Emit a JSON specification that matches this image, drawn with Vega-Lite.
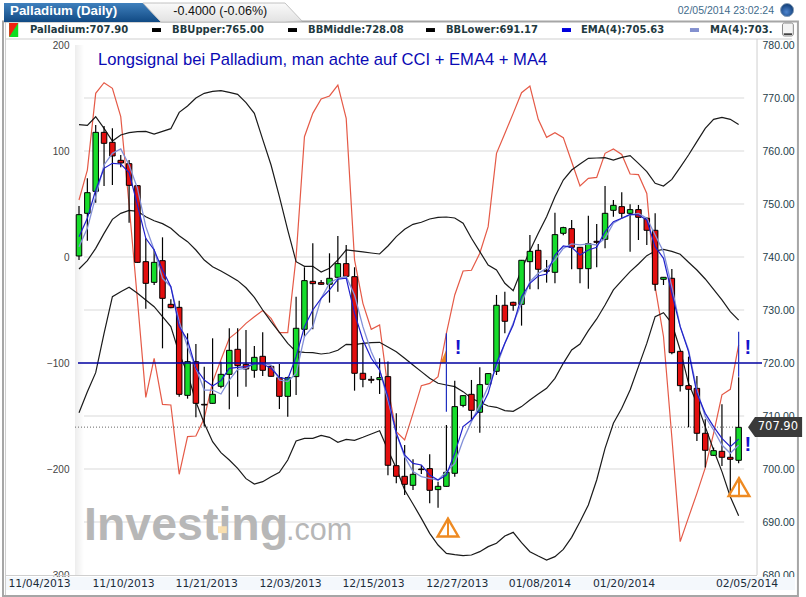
{
"$schema":"https://vega.github.io/schema/vega-lite/v6.json",
"width":682,"height":530,"autosize":"none","padding":{"left":75,"top":45,"right":49,"bottom":22},"background":"white",
"config":{"view":{"stroke":null},"scale":{"continuousPadding":0}},
"datasets":{
"candles":[
{"i":0,"open":740.19,"high":749.62,"low":739.43,"close":747.99,"bbUpper":764.97,"bbMiddle":737.73,"bbLower":710.63,"ema":743.84,"ma":741.95,"cci":53.8},
{"i":1,"open":748.24,"high":754.84,"low":743.08,"close":752.14,"bbUpper":764.84,"bbMiddle":739.3,"bbLower":714.59,"ema":747.3,"ma":745.41,"cci":82},
{"i":2,"open":752.39,"high":764.91,"low":750.25,"close":763.52,"bbUpper":766.47,"bbMiddle":741.63,"bbLower":718.18,"ema":752.64,"ma":751.38,"cci":154.4},
{"i":3,"open":763.52,"high":764.72,"low":753.4,"close":761.45,"bbUpper":764.27,"bbMiddle":744.46,"bbLower":725.6,"ema":756.73,"ma":757.36,"cci":164.4},
{"i":4,"open":761.64,"high":764.28,"low":753.59,"close":759.06,"bbUpper":761.88,"bbMiddle":747.1,"bbLower":732.52,"ema":757.67,"ma":759.56,"cci":159.1},
{"i":5,"open":758.24,"high":759.25,"low":756.92,"close":757.74,"bbUpper":763.02,"bbMiddle":748.24,"bbLower":733.46,"ema":757.55,"ma":760.38,"cci":132.4},
{"i":6,"open":757.61,"high":758.3,"low":746.48,"close":753.52,"bbUpper":763.46,"bbMiddle":748.8,"bbLower":734.28,"ema":755.91,"ma":757.36,"cci":49},
{"i":7,"open":753.46,"high":753.59,"low":738.93,"close":738.99,"bbUpper":763.65,"bbMiddle":748.61,"bbLower":733.15,"ema":749.81,"ma":752.96,"cci":-40.6},
{"i":8,"open":739.12,"high":743.52,"low":730.25,"close":735.03,"bbUpper":763.71,"bbMiddle":747.61,"bbLower":731.89,"ema":743.52,"ma":745.72,"cci":-132.4},
{"i":9,"open":735.22,"high":741.45,"low":734.72,"close":738.99,"bbUpper":763.2,"bbMiddle":746.85,"bbLower":730.63,"ema":741.32,"ma":741.32,"cci":-95.6},
{"i":10,"open":739.31,"high":743.71,"low":722.77,"close":732.2,"bbUpper":763.71,"bbMiddle":746.29,"bbLower":728.74,"ema":737.55,"ma":735.98,"cci":-139},
{"i":11,"open":731.07,"high":732.01,"low":730.31,"close":730.44,"bbUpper":764.21,"bbMiddle":745.41,"bbLower":726.86,"ema":734.4,"ma":734.4,"cci":-139.6},
{"i":12,"open":730.5,"high":731.76,"low":713.65,"close":714.09,"bbUpper":767.29,"bbMiddle":744.02,"bbLower":721.8,"ema":726.86,"ma":727.8,"cci":-205},
{"i":13,"open":713.9,"high":725.6,"low":713.27,"close":720.25,"bbUpper":768.49,"bbMiddle":742.89,"bbLower":718.05,"ema":724.34,"ma":723.08,"cci":-169.5},
{"i":14,"open":720.25,"high":723.59,"low":709.75,"close":712.39,"bbUpper":770,"bbMiddle":741.32,"bbLower":712.7,"ema":719,"ma":719,"cci":-168.9},
{"i":15,"open":712.2,"high":719.31,"low":708.03,"close":712.08,"bbUpper":770.88,"bbMiddle":739.43,"bbLower":708.62,"ema":716.79,"ma":714.9,"cci":-152.2},
{"i":16,"open":712.39,"high":724.66,"low":712.33,"close":714.09,"bbUpper":771.25,"bbMiddle":738.17,"bbLower":705.16,"ema":715.66,"ma":714.9,"cci":-118},
{"i":17,"open":715.6,"high":720.25,"low":715.22,"close":717.86,"bbUpper":771.38,"bbMiddle":737.36,"bbLower":703.08,"ema":716.67,"ma":714.15,"cci":-97},
{"i":18,"open":717.86,"high":726.54,"low":711.26,"close":722.39,"bbUpper":771.07,"bbMiddle":736.48,"bbLower":701.7,"ema":719,"ma":716.79,"cci":-76.7},
{"i":19,"open":722.58,"high":726.54,"low":713.65,"close":719.5,"bbUpper":770.69,"bbMiddle":735.54,"bbLower":700.13,"ema":719.18,"ma":718.81,"cci":-70.4},
{"i":20,"open":719.75,"high":726.23,"low":715.53,"close":718.87,"bbUpper":769.12,"bbMiddle":734.2,"bbLower":698.18,"ema":719.31,"ma":719,"cci":-62.6},
{"i":21,"open":718.62,"high":723.21,"low":717.24,"close":721.07,"bbUpper":767.1,"bbMiddle":732.39,"bbLower":697.17,"ema":719.81,"ma":719.94,"cci":-56.3},
{"i":22,"open":721.26,"high":725.79,"low":717.55,"close":718.62,"bbUpper":762.2,"bbMiddle":730,"bbLower":697.61,"ema":719.81,"ma":719.94,"cci":-50.6},
{"i":23,"open":719.37,"high":719.62,"low":717.42,"close":717.49,"bbUpper":757.36,"bbMiddle":727.8,"bbLower":698.55,"ema":719,"ma":719.62,"cci":-57.9},
{"i":24,"open":717.23,"high":719.81,"low":711.32,"close":713.71,"bbUpper":751.38,"bbMiddle":725.8,"bbLower":699.37,"ema":717.3,"ma":716.79,"cci":-71.4},
{"i":25,"open":713.71,"high":717.42,"low":709.88,"close":717.23,"bbUpper":745.09,"bbMiddle":723.71,"bbLower":701.7,"ema":716.92,"ma":716.48,"cci":-71.4},
{"i":26,"open":717.43,"high":732.52,"low":713.97,"close":726.55,"bbUpper":739.12,"bbMiddle":722.14,"bbLower":705.28,"ema":721.2,"ma":718.05,"cci":0},
{"i":27,"open":726.36,"high":738.06,"low":724.85,"close":735.54,"bbUpper":738.24,"bbMiddle":722.02,"bbLower":705.79,"ema":726.86,"ma":724.97,"cci":113.5},
{"i":28,"open":735.41,"high":742.58,"low":726.36,"close":734.97,"bbUpper":738.24,"bbMiddle":721.95,"bbLower":705.79,"ema":730,"ma":726.86,"cci":135.5},
{"i":29,"open":735.16,"high":735.66,"low":734.78,"close":734.85,"bbUpper":737.18,"bbMiddle":721.7,"bbLower":706.35,"ema":732.2,"ma":732.2,"cci":149},
{"i":30,"open":734.85,"high":740.7,"low":731.39,"close":735.98,"bbUpper":737.87,"bbMiddle":721.89,"bbLower":705.98,"ema":733.8,"ma":735.04,"cci":151.9},
{"i":31,"open":736.17,"high":743.97,"low":733.46,"close":738.75,"bbUpper":739.44,"bbMiddle":722.4,"bbLower":705.03,"ema":735.8,"ma":735.98,"cci":162.2},
{"i":32,"open":738.75,"high":742.27,"low":736.29,"close":736.36,"bbUpper":741.33,"bbMiddle":723.53,"bbLower":705.6,"ema":736,"ma":736.3,"cci":130.8},
{"i":33,"open":736.29,"high":738.06,"low":714.78,"close":718.06,"bbUpper":741.14,"bbMiddle":723.46,"bbLower":705.41,"ema":729.4,"ma":732.83,"cci":-2.8},
{"i":34,"open":718.06,"high":723.84,"low":715.41,"close":716.92,"bbUpper":740.95,"bbMiddle":723.72,"bbLower":705.98,"ema":724.34,"ma":726.86,"cci":-43.7},
{"i":35,"open":716.92,"high":717.55,"low":716.17,"close":716.74,"bbUpper":740.76,"bbMiddle":723.84,"bbLower":706.6,"ema":720.89,"ma":722.14,"cci":-68.2},
{"i":36,"open":716.86,"high":720.89,"low":714.16,"close":717.24,"bbUpper":740.57,"bbMiddle":723.9,"bbLower":707.23,"ema":718.68,"ma":718.68,"cci":-64.1},
{"i":37,"open":717.43,"high":720.26,"low":698.81,"close":700.7,"bbUpper":742.08,"bbMiddle":723.03,"bbLower":703.59,"ema":713.65,"ma":713.02,"cci":-124},
{"i":38,"open":700.63,"high":710.51,"low":697.3,"close":698.62,"bbUpper":743.84,"bbMiddle":722.14,"bbLower":700.13,"ema":706.73,"ma":706.73,"cci":-164.8},
{"i":39,"open":698.62,"high":704.53,"low":695.1,"close":697.11,"bbUpper":745.23,"bbMiddle":720.89,"bbLower":696.04,"ema":702.65,"ma":702.33,"cci":-172.6},
{"i":40,"open":696.92,"high":701.83,"low":696.04,"close":699,"bbUpper":746.17,"bbMiddle":719.63,"bbLower":693.4,"ema":701.07,"ma":699.5,"cci":-147.5},
{"i":41,"open":700,"high":700.76,"low":699.06,"close":699.88,"bbUpper":746.55,"bbMiddle":718.37,"bbLower":690.69,"ema":700.76,"ma":698.56,"cci":-121.4},
{"i":42,"open":700.07,"high":702.77,"low":693.53,"close":695.98,"bbUpper":747.17,"bbMiddle":717.11,"bbLower":687.86,"ema":698.87,"ma":698.24,"cci":-119.2},
{"i":43,"open":696.11,"high":697.61,"low":692.71,"close":696.73,"bbUpper":747.49,"bbMiddle":716.17,"bbLower":685.66,"ema":697.93,"ma":697.93,"cci":-112.9},
{"i":44,"open":696.73,"high":708.31,"low":696.67,"close":699.38,"bbUpper":747.55,"bbMiddle":715.85,"bbLower":684.09,"ema":698.87,"ma":699.5,"cci":-72},
{"i":45,"open":699.19,"high":716.67,"low":698.56,"close":711.77,"bbUpper":747.36,"bbMiddle":715.54,"bbLower":683.84,"ema":702.96,"ma":701.07,"cci":-35.8},
{"i":46,"open":712,"high":713.9,"low":711.64,"close":713.84,"bbUpper":746.36,"bbMiddle":714.6,"bbLower":683.65,"ema":708,"ma":705.48,"cci":-13.2},
{"i":47,"open":714.09,"high":716.8,"low":709.25,"close":711.07,"bbUpper":743.53,"bbMiddle":713.34,"bbLower":683.77,"ema":709.25,"ma":708.94,"cci":-12.5},
{"i":48,"open":710.7,"high":719.19,"low":706.86,"close":715.92,"bbUpper":741.01,"bbMiddle":712.58,"bbLower":684.4,"ema":711.14,"ma":712.08,"cci":3.5},
{"i":49,"open":715.98,"high":718.06,"low":715.92,"close":718,"bbUpper":738.5,"bbMiddle":711.89,"bbLower":685.35,"ema":714.28,"ma":715.54,"cci":28.6},
{"i":50,"open":718.43,"high":732.84,"low":717.74,"close":730.89,"bbUpper":737.55,"bbMiddle":711.64,"bbLower":685.98,"ema":719.94,"ma":719.31,"cci":97.8},
{"i":51,"open":730.89,"high":733.46,"low":725.6,"close":727.87,"bbUpper":735.04,"bbMiddle":711.01,"bbLower":687.36,"ema":723.72,"ma":723.72,"cci":116.6},
{"i":52,"open":731.45,"high":731.58,"low":729.88,"close":730.89,"bbUpper":733.65,"bbMiddle":710.89,"bbLower":688.05,"ema":727.17,"ma":727.49,"cci":135.5},
{"i":53,"open":731.07,"high":739.44,"low":727.05,"close":739.38,"bbUpper":737.6,"bbMiddle":711.77,"bbLower":686.1,"ema":732.52,"ma":731.26,"cci":155},
{"i":54,"open":739.12,"high":744.16,"low":733.9,"close":741.07,"bbUpper":741.2,"bbMiddle":713.02,"bbLower":684.4,"ema":735.04,"ma":735.35,"cci":161.3},
{"i":55,"open":741.26,"high":742.46,"low":733.9,"close":737.68,"bbUpper":744.46,"bbMiddle":714.15,"bbLower":683.58,"ema":736.42,"ma":736.92,"cci":129.9},
{"i":56,"open":737.49,"high":739.44,"low":735.16,"close":737.3,"bbUpper":747.61,"bbMiddle":715.22,"bbLower":682.83,"ema":736.8,"ma":737.87,"cci":112.9},
{"i":57,"open":737.11,"high":748.37,"low":735.04,"close":744.22,"bbUpper":751.38,"bbMiddle":717.11,"bbLower":683.46,"ema":740.38,"ma":739.44,"cci":117.3},
{"i":58,"open":744.47,"high":745.73,"low":744.09,"close":745.54,"bbUpper":754.52,"bbMiddle":719.94,"bbLower":684.84,"ema":742.08,"ma":741.64,"cci":112.6},
{"i":59,"open":745.35,"high":746.99,"low":737.68,"close":741.83,"bbUpper":756.41,"bbMiddle":722.46,"bbLower":687.11,"ema":741.83,"ma":742.46,"cci":89.9},
{"i":60,"open":741.83,"high":741.83,"low":735.04,"close":737.8,"bbUpper":757.54,"bbMiddle":723.59,"bbLower":690.06,"ema":740.38,"ma":742.27,"cci":67},
{"i":61,"open":737.8,"high":747.8,"low":734.03,"close":742.52,"bbUpper":758.61,"bbMiddle":726.1,"bbLower":693.21,"ema":741.33,"ma":742.46,"cci":74.2},
{"i":62,"open":742.96,"high":746.23,"low":738.06,"close":742.77,"bbUpper":758.68,"bbMiddle":728.31,"bbLower":697.93,"ema":741.83,"ma":742.27,"cci":75.1},
{"i":63,"open":743.34,"high":753.4,"low":741.64,"close":748.24,"bbUpper":758.74,"bbMiddle":730.95,"bbLower":703.9,"ema":744.78,"ma":743.53,"cci":97.8},
{"i":64,"open":748.81,"high":750.76,"low":747.61,"close":749.75,"bbUpper":758.3,"bbMiddle":733.78,"bbLower":708.62,"ema":746.67,"ma":746.36,"cci":101.9},
{"i":65,"open":749.5,"high":752.21,"low":747.3,"close":748.24,"bbUpper":758.8,"bbMiddle":735.54,"bbLower":711.45,"ema":747.3,"ma":747.3,"cci":96.8},
{"i":66,"open":748.24,"high":749.94,"low":741.01,"close":748.94,"bbUpper":759.12,"bbMiddle":737.24,"bbLower":714.9,"ema":748.05,"ma":747.93,"cci":78.3},
{"i":67,"open":748.94,"high":749.82,"low":743.21,"close":747.49,"bbUpper":757.67,"bbMiddle":738.68,"bbLower":719.31,"ema":747.93,"ma":748.24,"cci":77.7},
{"i":68,"open":747.3,"high":747.49,"low":742.27,"close":745.04,"bbUpper":756.1,"bbMiddle":740.26,"bbLower":723.7,"ema":746.99,"ma":747.3,"cci":60},
{"i":69,"open":745.04,"high":748.24,"low":733.65,"close":734.85,"bbUpper":753.9,"bbMiddle":741.14,"bbLower":728.75,"ema":741.95,"ma":744.16,"cci":-28},
{"i":70,"open":735.79,"high":736.17,"low":734.72,"close":736.17,"bbUpper":753.39,"bbMiddle":741.45,"bbLower":729.5,"ema":739.75,"ma":741.01,"cci":-75},
{"i":71,"open":735.98,"high":737.74,"low":721.64,"close":721.95,"bbUpper":754.65,"bbMiddle":741.07,"bbLower":727.49,"ema":733.15,"ma":734.4,"cci":-170},
{"i":72,"open":722.2,"high":722.27,"low":714.6,"close":715.73,"bbUpper":756.92,"bbMiddle":740.51,"bbLower":722.46,"ema":726.86,"ma":726.86,"cci":-268.5},
{"i":73,"open":715.73,"high":721.2,"low":707.87,"close":715.04,"bbUpper":759.24,"bbMiddle":739,"bbLower":716.17,"ema":722.14,"ma":722.46,"cci":-245.6},
{"i":74,"open":715.22,"high":717.55,"low":705.29,"close":706.74,"bbUpper":761.76,"bbMiddle":737.55,"bbLower":712.4,"ema":714.28,"ma":714.91,"cci":-223},
{"i":75,"open":706.74,"high":709.38,"low":700.26,"close":703.53,"bbUpper":764.27,"bbMiddle":735.85,"bbLower":708,"ema":710.5,"ma":709.88,"cci":-199},
{"i":76,"open":702.58,"high":704.03,"low":702.46,"close":703.46,"bbUpper":765.97,"bbMiddle":733.9,"bbLower":703.59,"ema":708,"ma":707.36,"cci":-166.3},
{"i":77,"open":703.34,"high":712.21,"low":700.57,"close":702.21,"bbUpper":766.35,"bbMiddle":731.89,"bbLower":699.5,"ema":705.79,"ma":704.53,"cci":-130},
{"i":78,"open":702.21,"high":706.11,"low":695.1,"close":701.83,"bbUpper":765.97,"bbMiddle":729.69,"bbLower":694.78,"ema":704.22,"ma":702.96,"cci":-124.8},
{"i":79,"open":701.64,"high":717.3,"low":701.07,"close":707.86,"bbUpper":765,"bbMiddle":728.08,"bbLower":691.17,"ema":705.63,"ma":704.53,"cci":-83}
],
"boxes":[
{"k":"strip","i":-8.86,"i2":85.75,"p":679.62,"p2":677.17},
{"k":"sep","i":-8.86,"i2":85.38,"p":781.23,"p2":781.04},
{"k":"sep","i":-8.86,"i2":81.2,"p":680,"p2":679.81},
{"k":"sep","i":81.14,"i2":81.26,"p":781.13,"p2":680},
{"k":"sep","i":-8.86,"i2":-8.74,"p":784.34,"p2":676.04},
{"k":"bb","i":8.74,"i2":9.82,"p":783.2,"p2":782.45},
{"k":"bb","i":25.03,"i2":26.11,"p":783.2,"p2":782.45},
{"k":"bb","i":41.56,"i2":42.63,"p":783.2,"p2":782.45},
{"k":"ema","i":57.84,"i2":58.92,"p":783.2,"p2":782.45},
{"k":"ma","i":73.17,"i2":74.25,"p":783.2,"p2":782.45}
],
"gridLines":[{"i":-0.479,"i2":79.66,"p":770},{"i":-0.479,"i2":79.66,"p":760},{"i":-0.479,"i2":79.66,"p":750},{"i":-0.479,"i2":79.66,"p":740},{"i":-0.479,"i2":79.66,"p":730},{"i":-0.479,"i2":79.66,"p":710},{"i":-0.479,"i2":79.66,"p":700},{"i":-0.479,"i2":79.66,"p":690}],
"legendText":[
{"i":-5.87,"p":782.83,"t":"Palladium:707.90"},
{"i":11.14,"p":782.83,"t":"BBUpper:765.00"},
{"i":27.43,"p":782.83,"t":"BBMiddle:728.08"},
{"i":43.95,"p":782.83,"t":"BBLower:691.17"},
{"i":60.12,"p":782.83,"t":"EMA(4):705.63"},
{"i":75.57,"p":782.83,"t":"MA(4):703."}
],
"dateLabels":[
{"i":-4.73,"p":678.3,"t":"11/04/2013"},
{"i":5.33,"p":678.3,"t":"11/10/2013"},
{"i":15.29,"p":678.3,"t":"11/21/2013"},
{"i":25.33,"p":678.3,"t":"12/03/2013"},
{"i":35.27,"p":678.3,"t":"12/15/2013"},
{"i":45.3,"p":678.3,"t":"12/27/2013"},
{"i":55.2,"p":678.3,"t":"01/08/2014"},
{"i":65.27,"p":678.3,"t":"01/20/2014"},
{"i":80,"p":678.3,"t":"02/05/2014"}
],
"signals":[{"i":45.4,"p":722.8},{"i":80.1,"p":722.8},{"i":80.1,"p":704.5}],
"warnings":[{"i":44.19,"p":688.96,"top":690.8,"bottom":687.2},{"i":79.04,"p":696.6,"top":698.4,"bottom":694.7}],
"marks":[{"i":44,"top":725.6,"bottom":710.8},{"i":79,"top":725.9,"bottom":717.4}]
},
"layer":[
{"data":{"name":"gridLines"},"mark":{"type":"rule","color":"#dadada","strokeWidth":1.2},
 "encoding":{"x":{"field":"i","type":"quantitative","axis":null,"scale":{"domain":[-0.479,81.198],"nice":false,"zero":false}},
 "x2":{"field":"i2"},
 "y":{"field":"p","type":"quantitative","title":null,"scale":{"domain":[680,780],"nice":false,"zero":false},
 "axis":{"orient":"right","values":[680,690,700,710,720,730,740,750,760,770,780],"format":".2f","domain":false,"ticks":false,"grid":false,"labelFont":"Liberation Sans","labelFontSize":10.5,"labelColor":"#1e3d4a","labelPadding":5,"labelOverlap":false,"labelBound":false,"labelFlush":false}}}},
{"layer":[
{"data":{"name":"boxes"},"mark":{"type":"rect"},
 "encoding":{"x":{"field":"i","type":"quantitative","axis":null,"scale":{"domain":[-0.479,81.198],"nice":false,"zero":false}},
 "x2":{"field":"i2"},
 "y":{"field":"p","type":"quantitative","axis":null,"scale":{"domain":[680,780],"nice":false,"zero":false}},
 "y2":{"field":"p2"},
 "color":{"field":"k","type":"nominal","legend":null,"scale":{"domain":["strip","sep","bb","ema","ma"],"range":["#f4f8fc","#cfcfcf","#000000","#0000dd","#8390cf"]}}}},
{"data":{"values":[{"i":-9.1,"i2":86.1,"p":784.43,"p2":676.04}]},"mark":{"type":"rect","fill":"transparent","stroke":"#a6a6a6","strokeWidth":2},
 "encoding":{"x":{"field":"i","type":"quantitative","axis":null,"scale":{"domain":[-0.479,81.198],"nice":false,"zero":false}},"x2":{"field":"i2"},"y":{"field":"p","type":"quantitative","axis":null,"scale":{"domain":[680,780],"nice":false,"zero":false}},"y2":{"field":"p2"}}},
{"data":{"values":[{"i":-0.479,"i2":0.6,"p":780,"p2":680}]},"mark":{"type":"rect","fill":{"gradient":"linear","x1":0,"y1":0,"x2":1,"y2":0,"stops":[{"offset":0,"color":"#ededed"},{"offset":1,"color":"#ffffff"}]}},
 "encoding":{"x":{"field":"i","type":"quantitative","axis":null,"scale":{"domain":[-0.479,81.198],"nice":false,"zero":false}},"x2":{"field":"i2"},"y":{"field":"p","type":"quantitative","axis":null,"scale":{"domain":[680,780],"nice":false,"zero":false}},"y2":{"field":"p2"}}},
{"data":{"values":[{"i":0.6,"p":686.6,"t":"Investing"}]},"mark":{"type":"text","font":"Liberation Sans","fontWeight":"bold","fontSize":46.5,"color":"#b7b7b7","align":"left","baseline":"alphabetic"},
 "encoding":{"x":{"field":"i","type":"quantitative","axis":null,"scale":{"domain":[-0.479,81.198],"nice":false,"zero":false}},"y":{"field":"p","type":"quantitative","axis":null,"scale":{"domain":[680,780],"nice":false,"zero":false}},"text":{"field":"t"}}},
{"data":{"values":[{"i":24.8,"p":686.6,"t":".com"}]},"mark":{"type":"text","font":"Liberation Sans","fontSize":30.5,"color":"#b7b7b7","align":"left","baseline":"alphabetic"},
 "encoding":{"x":{"field":"i","type":"quantitative","axis":null,"scale":{"domain":[-0.479,81.198],"nice":false,"zero":false}},"y":{"field":"p","type":"quantitative","axis":null,"scale":{"domain":[680,780],"nice":false,"zero":false}},"text":{"field":"t"}}},
{"data":{"values":[{"i":16.65,"i2":17.7,"p":689.2,"p2":687.9}]},"mark":{"type":"rect","color":"#f8dfb0"},
 "encoding":{"x":{"field":"i","type":"quantitative","axis":null,"scale":{"domain":[-0.479,81.198],"nice":false,"zero":false}},"x2":{"field":"i2"},"y":{"field":"p","type":"quantitative","axis":null,"scale":{"domain":[680,780],"nice":false,"zero":false}},"y2":{"field":"p2"}}},
{"data":{"values":[{"i":-8.98,"top":787.92,"bottom":784.34},{"i":7.66,"top":787.92,"bottom":784.34},{"i":9.82,"top":784.34,"bottom":784.34}]},"mark":{"type":"area","fill":{"gradient":"linear","x1":0,"y1":0,"x2":0,"y2":1,"stops":[{"offset":0,"color":"#3f80bd"},{"offset":1,"color":"#114a84"}]}},
 "encoding":{"x":{"field":"i","type":"quantitative","axis":null,"scale":{"domain":[-0.479,81.198],"nice":false,"zero":false}},"y":{"field":"top","type":"quantitative","axis":null,"scale":{"domain":[680,780],"nice":false,"zero":false}},"y2":{"field":"bottom"}}},
{"data":{"values":[{"i":7.66,"top":787.92,"bottom":787.92},{"i":9.82,"top":787.92,"bottom":784.34},{"i":24.67,"top":787.92,"bottom":784.34},{"i":26.71,"top":784.53,"bottom":784.53}]},"mark":{"type":"area","stroke":"#c2c2c2","strokeWidth":1,"fill":{"gradient":"linear","x1":0,"y1":0,"x2":0,"y2":1,"stops":[{"offset":0,"color":"#fafafa"},{"offset":1,"color":"#e2e2e2"}]}},
 "encoding":{"x":{"field":"i","type":"quantitative","axis":null,"scale":{"domain":[-0.479,81.198],"nice":false,"zero":false}},"y":{"field":"top","type":"quantitative","axis":null,"scale":{"domain":[680,780],"nice":false,"zero":false}},"y2":{"field":"bottom"}}},
{"data":{"values":[{"i":-8.36,"top":784.15,"bottom":781.51},{"i":-7.28,"top":784.15,"bottom":781.51}]},"mark":{"type":"area","color":"#10dd20"},
 "encoding":{"x":{"field":"i","type":"quantitative","axis":null,"scale":{"domain":[-0.479,81.198],"nice":false,"zero":false}},"y":{"field":"top","type":"quantitative","axis":null,"scale":{"domain":[680,780],"nice":false,"zero":false}},"y2":{"field":"bottom"}}},
{"data":{"values":[{"i":-8.36,"top":784.15,"bottom":781.51},{"i":-7.28,"top":784.15,"bottom":784.15}]},"mark":{"type":"area","color":"#f02010"},
 "encoding":{"x":{"field":"i","type":"quantitative","axis":null,"scale":{"domain":[-0.479,81.198],"nice":false,"zero":false}},"y":{"field":"top","type":"quantitative","axis":null,"scale":{"domain":[680,780],"nice":false,"zero":false}},"y2":{"field":"bottom"}}},
{"data":{"name":"legendText"},"mark":{"type":"text","font":"DejaVu Sans","fontWeight":"bold","fontSize":10,"color":"#1f3a3f","align":"left"},
 "encoding":{"x":{"field":"i","type":"quantitative","axis":null,"scale":{"domain":[-0.479,81.198],"nice":false,"zero":false}},"y":{"field":"p","type":"quantitative","axis":null,"scale":{"domain":[680,780],"nice":false,"zero":false}},"text":{"field":"t"}}},
{"data":{"name":"dateLabels"},"mark":{"type":"text","font":"DejaVu Sans","fontSize":10.8,"color":"#1b2b3a"},
 "encoding":{"x":{"field":"i","type":"quantitative","axis":null,"scale":{"domain":[-0.479,81.198],"nice":false,"zero":false}},"y":{"field":"p","type":"quantitative","axis":null,"scale":{"domain":[680,780],"nice":false,"zero":false}},"text":{"field":"t"}}},
{"data":{"values":[{"i":-8.26,"p":786.42,"t":"Palladium (Daily)"}]},"mark":{"type":"text","font":"Liberation Sans","fontWeight":"bold","fontSize":13.3,"color":"#ffffff","align":"left"},
 "encoding":{"x":{"field":"i","type":"quantitative","axis":null,"scale":{"domain":[-0.479,81.198],"nice":false,"zero":false}},"y":{"field":"p","type":"quantitative","axis":null,"scale":{"domain":[680,780],"nice":false,"zero":false}},"text":{"field":"t"}}},
{"data":{"values":[{"i":11.3,"p":786.42,"t":"-0.4000 (-0.06%)"}]},"mark":{"type":"text","font":"Liberation Sans","fontSize":12.5,"color":"#111111","align":"left"},
 "encoding":{"x":{"field":"i","type":"quantitative","axis":null,"scale":{"domain":[-0.479,81.198],"nice":false,"zero":false}},"y":{"field":"p","type":"quantitative","axis":null,"scale":{"domain":[680,780],"nice":false,"zero":false}},"text":{"field":"t"}}},
{"data":{"values":[{"i":83.24,"p":786.42,"t":"02/05/2014 23:02:24"}]},"mark":{"type":"text","font":"Liberation Sans","fontSize":10.5,"color":"#3f6c8c","align":"right"},
 "encoding":{"x":{"field":"i","type":"quantitative","axis":null,"scale":{"domain":[-0.479,81.198],"nice":false,"zero":false}},"y":{"field":"p","type":"quantitative","axis":null,"scale":{"domain":[680,780],"nice":false,"zero":false}},"text":{"field":"t"}}},
{"data":{"values":[{"i":84.8,"p":786.6}]},"mark":{"type":"point","shape":"circle","filled":true,"size":170,"opacity":1,"stroke":"#8aa0b8","strokeWidth":1,"fill":{"gradient":"radial","x1":0.45,"y1":0.65,"x2":0.45,"y2":0.65,"r1":0,"r2":0.6,"stops":[{"offset":0,"color":"#4f86d0"},{"offset":1,"color":"#123f78"}]}},
 "encoding":{"x":{"field":"i","type":"quantitative","axis":null,"scale":{"domain":[-0.479,81.198],"nice":false,"zero":false}},"y":{"field":"p","type":"quantitative","axis":null,"scale":{"domain":[680,780],"nice":false,"zero":false}}}},
{"data":{"values":[{"i":84.25,"i2":85.55,"p":784.15,"p2":781.7}]},"mark":{"type":"rect","fill":"#f4f4f4","stroke":"#8a8a8a","strokeWidth":1,"cornerRadius":2},
 "encoding":{"x":{"field":"i","type":"quantitative","axis":null,"scale":{"domain":[-0.479,81.198],"nice":false,"zero":false}},"x2":{"field":"i2"},"y":{"field":"p","type":"quantitative","axis":null,"scale":{"domain":[680,780],"nice":false,"zero":false}},"y2":{"field":"p2"}}},
{"data":{"values":[{"i":84.4,"i2":85.4,"p":782.2,"p2":781.9}]},"mark":{"type":"rect","color":"#333333"},
 "encoding":{"x":{"field":"i","type":"quantitative","axis":null,"scale":{"domain":[-0.479,81.198],"nice":false,"zero":false}},"x2":{"field":"i2"},"y":{"field":"p","type":"quantitative","axis":null,"scale":{"domain":[680,780],"nice":false,"zero":false}},"y2":{"field":"p2"}}}
]},
{"data":{"name":"candles"},"mark":{"type":"line","color":"#e55a47","strokeWidth":1.2},
 "encoding":{"x":{"field":"i","type":"quantitative","axis":null,"scale":{"domain":[-0.479,81.198],"nice":false,"zero":false}},
 "y":{"field":"cci","type":"quantitative","title":null,"scale":{"domain":[-300,200],"nice":false,"zero":false},
 "axis":{"orient":"left","values":[-300,-200,-100,0,100,200],"domain":false,"ticks":false,"grid":false,"labelFont":"Liberation Sans","labelFontSize":10,"labelColor":"#444444","labelPadding":6,"labelOverlap":false,"labelBound":false,"labelFlush":false}}}},
{"layer":[
{"data":{"values":[{"i":43.3,"top":720,"bottom":720},{"i":44,"top":722.6,"bottom":720}]},"mark":{"type":"area","color":"#ee8a22"},
 "encoding":{"x":{"field":"i","type":"quantitative","axis":null,"scale":{"domain":[-0.479,81.198],"nice":false,"zero":false}},"y":{"field":"top","type":"quantitative","axis":null,"scale":{"domain":[680,780],"nice":false,"zero":false}},"y2":{"field":"bottom"}}},
{"data":{"values":[{"i":-0.479,"i2":79.2,"p":707.9}]},"mark":{"type":"rule","color":"#666666","strokeWidth":1,"strokeDash":[1,2]},
 "encoding":{"x":{"field":"i","type":"quantitative","axis":null,"scale":{"domain":[-0.479,81.198],"nice":false,"zero":false}},"x2":{"field":"i2"},"y":{"field":"p","type":"quantitative","axis":null,"scale":{"domain":[680,780],"nice":false,"zero":false}}}},
{"data":{"name":"candles"},"mark":{"type":"line","color":"#1a1a1a","strokeWidth":1.2},"encoding":{"x":{"field":"i","type":"quantitative","axis":null,"scale":{"domain":[-0.479,81.198],"nice":false,"zero":false}},"y":{"field":"bbUpper","type":"quantitative","axis":null,"scale":{"domain":[680,780],"nice":false,"zero":false}}}},
{"data":{"name":"candles"},"mark":{"type":"line","color":"#1a1a1a","strokeWidth":1.2},"encoding":{"x":{"field":"i","type":"quantitative","axis":null,"scale":{"domain":[-0.479,81.198],"nice":false,"zero":false}},"y":{"field":"bbMiddle","type":"quantitative","axis":null,"scale":{"domain":[680,780],"nice":false,"zero":false}}}},
{"data":{"name":"candles"},"mark":{"type":"line","color":"#1a1a1a","strokeWidth":1.2},"encoding":{"x":{"field":"i","type":"quantitative","axis":null,"scale":{"domain":[-0.479,81.198],"nice":false,"zero":false}},"y":{"field":"bbLower","type":"quantitative","axis":null,"scale":{"domain":[680,780],"nice":false,"zero":false}}}},
{"data":{"name":"candles"},"mark":{"type":"rule","color":"#000000","strokeWidth":1.2},"encoding":{"x":{"field":"i","type":"quantitative","axis":null,"scale":{"domain":[-0.479,81.198],"nice":false,"zero":false}},"y":{"field":"low","type":"quantitative","axis":null,"scale":{"domain":[680,780],"nice":false,"zero":false}},"y2":{"field":"high"}}},
{"data":{"name":"candles"},"mark":{"type":"bar","size":5.5,"stroke":"#000000","strokeWidth":1,"opacity":1},"encoding":{"x":{"field":"i","type":"quantitative","axis":null,"scale":{"domain":[-0.479,81.198],"nice":false,"zero":false}},"y":{"field":"open","type":"quantitative","axis":null,"scale":{"domain":[680,780],"nice":false,"zero":false}},"y2":{"field":"close"},"fill":{"condition":{"test":"datum.close>=datum.open","value":"#16dc2b"},"value":"#e30f0f"}}},
{"data":{"name":"candles"},"mark":{"type":"line","color":"#8390d8","strokeWidth":1.3},"encoding":{"x":{"field":"i","type":"quantitative","axis":null,"scale":{"domain":[-0.479,81.198],"nice":false,"zero":false}},"y":{"field":"ma","type":"quantitative","axis":null,"scale":{"domain":[680,780],"nice":false,"zero":false}}}},
{"data":{"name":"candles"},"mark":{"type":"line","color":"#2020cc","strokeWidth":1.2},"encoding":{"x":{"field":"i","type":"quantitative","axis":null,"scale":{"domain":[-0.479,81.198],"nice":false,"zero":false}},"y":{"field":"ema","type":"quantitative","axis":null,"scale":{"domain":[680,780],"nice":false,"zero":false}}}},
{"data":{"values":[{"i":-0.12,"i2":81.8,"p":720}]},"mark":{"type":"rule","color":"#0000a0","strokeWidth":1.4},
 "encoding":{"x":{"field":"i","type":"quantitative","axis":null,"scale":{"domain":[-0.479,81.198],"nice":false,"zero":false}},"x2":{"field":"i2"},"y":{"field":"p","type":"quantitative","axis":null,"scale":{"domain":[680,780],"nice":false,"zero":false}}}},
{"data":{"name":"marks"},"mark":{"type":"rule","color":"#2030c0","strokeWidth":1.2},"encoding":{"x":{"field":"i","type":"quantitative","axis":null,"scale":{"domain":[-0.479,81.198],"nice":false,"zero":false}},"y":{"field":"top","type":"quantitative","axis":null,"scale":{"domain":[680,780],"nice":false,"zero":false}},"y2":{"field":"bottom"}}},
{"data":{"name":"signals"},"mark":{"type":"text","text":"!","font":"Liberation Sans","fontWeight":"bold","fontSize":20,"color":"#1414cc"},"encoding":{"x":{"field":"i","type":"quantitative","axis":null,"scale":{"domain":[-0.479,81.198],"nice":false,"zero":false}},"y":{"field":"p","type":"quantitative","axis":null,"scale":{"domain":[680,780],"nice":false,"zero":false}}}},
{"data":{"name":"warnings"},"mark":{"type":"point","shape":"triangle-up","filled":false,"size":430,"stroke":"#ee8a22","strokeWidth":2.4,"opacity":1},"encoding":{"x":{"field":"i","type":"quantitative","axis":null,"scale":{"domain":[-0.479,81.198],"nice":false,"zero":false}},"y":{"field":"p","type":"quantitative","axis":null,"scale":{"domain":[680,780],"nice":false,"zero":false}}}},
{"data":{"name":"warnings"},"mark":{"type":"rule","color":"#ee8a22","strokeWidth":2},"encoding":{"x":{"field":"i","type":"quantitative","axis":null,"scale":{"domain":[-0.479,81.198],"nice":false,"zero":false}},"y":{"field":"top","type":"quantitative","axis":null,"scale":{"domain":[680,780],"nice":false,"zero":false}},"y2":{"field":"bottom"}}},
{"data":{"values":[{"i":80.12,"top":707.9,"bottom":707.9},{"i":80.96,"top":709.8,"bottom":706.04},{"i":86.6,"top":709.8,"bottom":706.04}]},"mark":{"type":"area","color":"#3a3a3a"},"encoding":{"x":{"field":"i","type":"quantitative","axis":null,"scale":{"domain":[-0.479,81.198],"nice":false,"zero":false}},"y":{"field":"top","type":"quantitative","axis":null,"scale":{"domain":[680,780],"nice":false,"zero":false}},"y2":{"field":"bottom"}}},
{"data":{"values":[{"i":83.7,"p":707.9,"t":"707.90"}]},"mark":{"type":"text","font":"DejaVu Sans","fontSize":11.5,"color":"#ffffff"},"encoding":{"x":{"field":"i","type":"quantitative","axis":null,"scale":{"domain":[-0.479,81.198],"nice":false,"zero":false}},"y":{"field":"p","type":"quantitative","axis":null,"scale":{"domain":[680,780],"nice":false,"zero":false}},"text":{"field":"t"}}},
{"data":{"values":[{"i":2.28,"p":777.2,"t":"Longsignal bei Palladium, man achte auf CCI + EMA4 + MA4"}]},"mark":{"type":"text","font":"Liberation Sans","fontSize":16.6,"color":"#0a0ab4","align":"left"},"encoding":{"x":{"field":"i","type":"quantitative","axis":null,"scale":{"domain":[-0.479,81.198],"nice":false,"zero":false}},"y":{"field":"p","type":"quantitative","axis":null,"scale":{"domain":[680,780],"nice":false,"zero":false}},"text":{"field":"t"}}}
]}
],
"resolve":{"scale":{"y":"independent"}}
}
